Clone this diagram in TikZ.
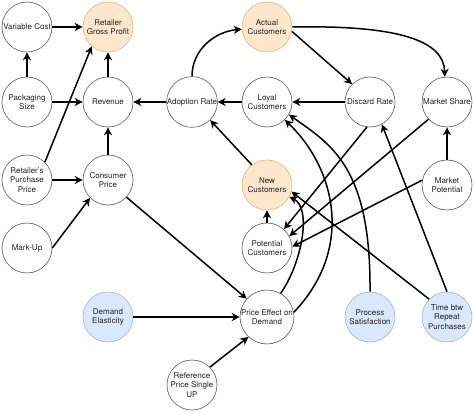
\documentclass[tikz,border=0pt]{standalone}
\usepackage{fontspec}
\setmainfont{TeX Gyre Heros}
\usetikzlibrary{arrows.meta}
\definecolor{orfill}{HTML}{FFE6CC}
\definecolor{ordraw}{HTML}{E3B66E}
\definecolor{blfill}{HTML}{DAE8FC}
\definecolor{bldraw}{HTML}{9DB3D6}
\definecolor{txt}{HTML}{222222}
\begin{document}
\begin{tikzpicture}[x=1pt,y=1pt,
 var/.style={circle, draw=black!65, line width=0.6pt, fill=white, minimum size=50pt, inner sep=0pt, align=center, text=txt, font=\fontsize{8}{9.5}\selectfont},
 key/.style={var, fill=orfill, draw=ordraw},
 inp/.style={var, fill=blfill, draw=bldraw},
 link/.style={line width=1.5pt, -{Stealth[length=8pt,width=8pt,inset=2.5pt]}}]
\useasboundingbox (0,0) rectangle (474,413);

\node[var] (VC)  at (27,386)  {Variable Cost};
\node[key] (RGP) at (108,386) {Retailer\\Gross Profit};
\node[var] (PS)  at (27,311)  {Packaging\\Size};
\node[var] (Rev) at (108,311) {Revenue};
\node[var] (AR)  at (192,311) {Adoption Rate};
\node[key] (AC)  at (267,386) {Actual\\Customers};
\node[var] (LC)  at (267,311) {Loyal\\Customers};
\node[var] (DR)  at (370,311) {Discard Rate};
\node[var] (MS)  at (447,311) {Market Share};
\node[var] (RPP) at (27,233)  {Retailer's\\Purchase\\Price};
\node[var] (CP)  at (108,233) {Consumer\\Price};
\node[var] (MU)  at (27,165)  {Mark-Up};
\node[key] (NC)  at (267,228) {New\\Customers};
\node[var] (PC)  at (267,165) {Potential\\Customers};
\node[var] (MP)  at (447,228) {Market\\Potential};
\node[inp] (DE)  at (108,96)  {Demand\\Elasticity};
\node[var] (RP)  at (192,28)  {Reference\\Price Single\\UP};
\node[var] (PE)  at (267,96)  {Price Effect on\\Demand};
\node[inp] (PSat) at (370,96) {Process\\Satisfaction};
\node[inp] (TB)  at (447,96)  {Time btw\\Repeat\\Purchases};

% left block
\draw[link] (VC) -- (RGP);
\draw[link] (PS) -- (VC);
\draw[link] (PS) -- (Rev);
\draw[link] (Rev) -- (RGP);
\draw[link] (RPP.45) -- (RGP.-130);
\draw[link] (RPP) -- (CP);
\draw[link] (CP) -- (Rev);
\draw[link] (MU.east) -- (CP.-135);
\draw[link] (CP.-43) -- (PE.138);
\draw[link] (DE) -- (PE);
\draw[link] (RP.45) -- (PE.-133);

% customers block
\draw[link] (AR) -- (Rev);
\draw[link] (LC) -- (AR);
\draw[link] (DR) -- (LC);
\draw[link] (AR) to[out=90,in=185] (AC);
\draw[link] (AC.east) .. controls (400,388) and (444,372) .. (MS.95);
\draw[link] (AC.-10) -- (DR.135);
\draw[link] (NC.127) -- (AR.-45);
\draw[link] (PC) -- (NC);
\draw[link] (MP) -- (MS);
\draw[link] (DR.-97) -- (PC.48);
\draw[link] (MS.-137) -- (PC.28);
\draw[link] (MP.169) -- (PC.3);
\draw[link] (TB.north) -- (DR.-62);
\draw[link] (TB.135) -- (NC.-15);
\draw[link] (PSat.north) .. controls (371,245) and (332,268) .. (LC.-30);
\draw[link] (PE.10) .. controls (355,165) and (335,245) .. (LC.-45);
\draw[link] (PE.60) .. controls (302,150) and (312,205) .. (NC.-28);
\end{tikzpicture}
\end{document}
